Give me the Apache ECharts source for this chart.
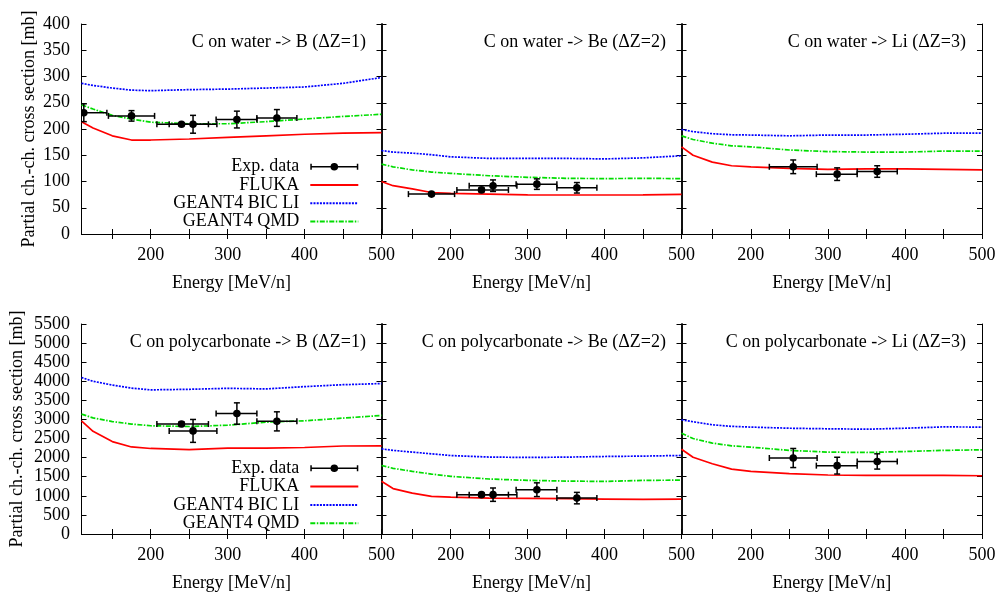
<!DOCTYPE html>
<html>
<head>
<meta charset="utf-8">
<script src="https://cdn.jsdelivr.net/npm/echarts@6/dist/echarts.min.js"></script>
<style>html,body{margin:0;padding:0;background:#fff}#c{width:999px;height:595px}</style>
</head>
<body>
<div id="c"></div>
<script>
// ---- data ----
const energies = [110, 125, 150, 175, 200, 250, 300, 350, 400, 450, 500];

const flukaWaterB = [214, 202, 187, 179, 179, 181, 184, 187, 190, 192, 193];
const bicWaterB   = [287, 283, 278, 274, 273, 275, 276, 278, 280, 287, 298];
const qmdWaterB   = [246, 238, 226, 219, 213, 210, 210, 214, 219, 224, 228];

const flukaWaterBe = [100, 92, 86, 79, 77.5, 76, 74.6, 74.3, 74.3, 74.6, 75.6];
const bicWaterBe   = [159, 156, 154, 151, 147, 144, 144, 144, 143, 145, 149];
const qmdWaterBe   = [133, 128, 122, 118, 115.5, 111, 108, 106, 105.5, 106, 105.5];

const flukaWaterLi = [166, 150, 137, 130, 128, 125, 123, 124, 124, 123, 122];
const bicWaterLi   = [199, 195, 191, 189, 188.5, 187, 188.5, 188.5, 190, 192, 192];
const qmdWaterLi   = [187, 180, 173, 168, 166, 160, 157, 156, 156, 158, 158];

const flukaPolyB = [2960, 2690, 2420, 2280, 2240, 2210, 2250, 2250, 2265, 2305, 2310];
const bicPolyB   = [4100, 4000, 3900, 3820, 3775, 3790, 3815, 3800, 3860, 3910, 3940];
const qmdPolyB   = [3140, 3040, 2945, 2880, 2835, 2815, 2850, 2930, 2965, 3035, 3105];

const flukaPolyBe = [1380, 1190, 1070, 985, 967, 941, 933, 924, 915, 906, 915];
const bicPolyBe   = [2230, 2190, 2145, 2100, 2055, 2015, 2005, 2013, 2030, 2040, 2057];
const qmdPolyBe   = [1795, 1720, 1640, 1570, 1510, 1440, 1405, 1386, 1377, 1403, 1412];

const flukaPolyLi = [2220, 2010, 1840, 1700, 1640, 1580, 1545, 1535, 1535, 1535, 1525];
const bicPolyLi   = [2990, 2940, 2860, 2820, 2800, 2770, 2755, 2745, 2770, 2805, 2800];
const qmdPolyLi   = [2640, 2500, 2380, 2310, 2275, 2190, 2145, 2135, 2160, 2190, 2205];

const expEnergy     = [113, 175, 240, 255, 312, 364];
const expEnergyLow  = [110, 145, 208, 224, 285, 338];
const expEnergyHigh = [143, 205, 275, 286, 338, 390];

const expWaterB     = [231, 225, 209, 209, 218, 221];
const expWaterBErr  = [17, 10, 3, 17, 16, 16];
const expWaterBe    = [null, 76, 84, 92, 95, 88];
const expWaterBeErr = [null, 3, 4, 11, 10, 10];
const expWaterLi    = [null, null, null, 128, 114, 119];
const expWaterLiErr = [null, null, null, 13, 12, 11];
const expPolyB      = [null, null, 2880, 2700, 3155, 2950];
const expPolyBErr   = [null, null, 60, 300, 280, 250];
const expPolyBe     = [null, null, 1030, 1030, 1160, 940];
const expPolyBeErr  = [null, null, 50, 175, 180, 150];
const expPolyLi     = [null, null, null, 1990, 1790, 1900];
const expPolyLiErr  = [null, null, null, 250, 220, 200];

const panelTitles = [
  'C on water -> B (\u0394Z=1)', 'C on water -> Be (\u0394Z=2)', 'C on water -> Li (\u0394Z=3)',
  'C on polycarbonate -> B (\u0394Z=1)', 'C on polycarbonate -> Be (\u0394Z=2)', 'C on polycarbonate -> Li (\u0394Z=3)'
];
const xTickValues  = [150, 200, 250, 300, 350, 400, 450, 500];
const xLabelValues = [200, 300, 400, 500];
const seriesNames = ['Exp. data', 'FLUKA', 'GEANT4 BIC LI', 'GEANT4 QMD'];
const xTitle = 'Energy [MeV/n]';
const yTitle = 'Partial ch.-ch. cross section [mb]';

// ---- build ----
const panels = [
  {fluka: flukaWaterB, bic: bicWaterB, qmd: qmdWaterB, exp: expWaterB, err: expWaterBErr},
  {fluka: flukaWaterBe, bic: bicWaterBe, qmd: qmdWaterBe, exp: expWaterBe, err: expWaterBeErr},
  {fluka: flukaWaterLi, bic: bicWaterLi, qmd: qmdWaterLi, exp: expWaterLi, err: expWaterLiErr},
  {fluka: flukaPolyB, bic: bicPolyB, qmd: qmdPolyB, exp: expPolyB, err: expPolyBErr},
  {fluka: flukaPolyBe, bic: bicPolyBe, qmd: qmdPolyBe, exp: expPolyBe, err: expPolyBeErr},
  {fluka: flukaPolyLi, bic: bicPolyLi, qmd: qmdPolyLi, exp: expPolyLi, err: expPolyLiErr}
];

const FONT = '"Liberation Serif", "DejaVu Serif", serif';
const colLeft = [81.5, 381.5, 681.5];
const colWidth = [300, 300, 300.5];
const rowTop = [24, 324];
const rowHeight = 210;
const titleRight = [633, 333, 33];

const grid = [], xAxis = [], yAxis = [], series = [], title = [];
const axisLineStyle = {color: '#000', width: 1};

function pairs(vals) { return energies.map((e, i) => [e, vals[i]]); }

function renderErr(params, api) {
  const x = api.value(0), y = api.value(1), xl = api.value(2), xh = api.value(3), ye = api.value(4);
  const p = api.coord([x, y]);
  const pl = api.coord([xl, y]);
  const ph = api.coord([xh, y]);
  const pt = api.coord([x, y + ye]);
  const pb = api.coord([x, y - ye]);
  const cap = 3;
  const st = {stroke: '#000', lineWidth: 1.5};
  return {
    type: 'group',
    children: [
      {type: 'line', shape: {x1: pl[0], y1: p[1], x2: ph[0], y2: p[1]}, style: st},
      {type: 'line', shape: {x1: pl[0], y1: p[1] - cap, x2: pl[0], y2: p[1] + cap}, style: st},
      {type: 'line', shape: {x1: ph[0], y1: p[1] - cap, x2: ph[0], y2: p[1] + cap}, style: st},
      {type: 'line', shape: {x1: p[0], y1: pt[1], x2: p[0], y2: pb[1]}, style: st},
      {type: 'line', shape: {x1: p[0] - cap, y1: pt[1], x2: p[0] + cap, y2: pt[1]}, style: st},
      {type: 'line', shape: {x1: p[0] - cap, y1: pb[1], x2: p[0] + cap, y2: pb[1]}, style: st},
      {type: 'circle', shape: {cx: p[0], cy: p[1], r: 3.8}, style: {fill: '#000'}}
    ]
  };
}

panels.forEach((pn, g) => {
  const row = Math.floor(g / 3), col = g % 3;
  const isTop = row === 0;
  grid.push({left: colLeft[col], top: rowTop[row], width: colWidth[col], height: rowHeight});
  const yMax = isTop ? 400 : 5500, yInt = isTop ? 50 : 500;
  xAxis.push({
    type: 'value', gridIndex: g, position: 'bottom', min: 110, max: 500,
    axisLine: {show: true, lineStyle: axisLineStyle},
    axisTick: {show: true, inside: true, length: 5, customValues: xTickValues, lineStyle: axisLineStyle},
    axisLabel: {show: true, customValues: xLabelValues, margin: 12, color: '#000', fontSize: 18, fontFamily: FONT,
      formatter: v => String(v)},
    splitLine: {show: false},
    name: xTitle, nameLocation: 'middle', nameGap: 40,
    nameTextStyle: {color: '#000', fontSize: 18, fontFamily: FONT}
  });
  xAxis.push({
    type: 'value', gridIndex: g, position: 'top', min: 110, max: 500,
    axisLine: {show: true, lineStyle: axisLineStyle},
    axisTick: {show: true, inside: true, length: 5, customValues: xTickValues, lineStyle: axisLineStyle},
    axisLabel: {show: false}, splitLine: {show: false}
  });
  yAxis.push({
    type: 'value', gridIndex: g, position: 'left', min: 0, max: yMax, interval: yInt,
    axisLine: {show: true, lineStyle: {color: '#000', width: col === 0 ? 1 : 1.5}},
    axisTick: {show: true, inside: true, length: 5, lineStyle: axisLineStyle},
    axisLabel: {show: col === 0, margin: 11.5, color: '#000', fontSize: 18, fontFamily: FONT,
      formatter: v => String(v)},
    splitLine: {show: false},
    name: col === 0 ? yTitle : '', nameLocation: 'middle', nameGap: isTop ? 43 : 55,
    nameTextStyle: {color: '#000', fontSize: 18, fontFamily: FONT}
  });
  yAxis.push({
    type: 'value', gridIndex: g, position: 'right', min: 0, max: yMax, interval: yInt,
    axisLine: {show: true, lineStyle: {color: '#000', width: col === 2 ? 1 : 1.5}},
    axisTick: {show: true, inside: true, length: 5, lineStyle: axisLineStyle},
    axisLabel: {show: false}, splitLine: {show: false}
  });
  title.push({
    text: panelTitles[g], right: titleRight[col], top: rowTop[row] + 9, padding: 0,
    textStyle: {color: '#000', fontSize: 18, fontWeight: 'normal', fontFamily: FONT}
  });
  const xi = 2 * g, yi = 2 * g;
  const expData = [];
  expEnergy.forEach((e, i) => {
    if (pn.exp[i] != null) expData.push([e, pn.exp[i], expEnergyLow[i], expEnergyHigh[i], pn.err[i]]);
  });
  series.push({
    name: 'Exp. data', type: 'custom', xAxisIndex: xi, yAxisIndex: yi,
    renderItem: renderErr, data: expData, clip: true, z: 5,
    encode: {x: [0, 2, 3], y: [1]},
    itemStyle: {color: '#000'}
  });
  series.push({
    name: 'FLUKA', type: 'line', xAxisIndex: xi, yAxisIndex: yi, data: pairs(pn.fluka),
    symbol: 'none', color: '#ff0000', itemStyle: {opacity: 0},
    lineStyle: {color: '#ff0000', width: 1.7}, z: 3
  });
  series.push({
    name: 'GEANT4 BIC LI', type: 'line', xAxisIndex: xi, yAxisIndex: yi, data: pairs(pn.bic),
    symbol: 'none', color: '#0000ff', itemStyle: {opacity: 0},
    lineStyle: {color: '#0000ff', width: 1.7, type: [2, 1.2]}, z: 3
  });
  series.push({
    name: 'GEANT4 QMD', type: 'line', xAxisIndex: xi, yAxisIndex: yi, data: pairs(pn.qmd),
    symbol: 'none', color: '#00dd00', itemStyle: {opacity: 0},
    lineStyle: {color: '#00dd00', width: 1.7, type: [5, 1.5, 1.5, 1.5]}, z: 3
  });
});

const expIcon = 'path://M0,3.75h48v1.5h-48z M0,1.5h1.5v6h-1.5z M46.5,1.5h1.5v6h-1.5z M20.2,4.5a3.8,3.8 0 1,1 7.6,0a3.8,3.8 0 1,1 -7.6,0z';
function makeLegend(top) {
  return {
    orient: 'vertical', align: 'right', right: 639.7, top: top, padding: 0,
    itemWidth: 48, itemHeight: 9, itemGap: 0.3, selectedMode: false,
    textStyle: {color: '#000', fontSize: 18, fontFamily: FONT, lineHeight: 18, padding: [0, 6, 0, 0]},
    data: [
      {name: 'Exp. data', icon: expIcon, itemStyle: {color: '#000'}},
      {name: 'FLUKA', itemStyle: {opacity: 0}},
      {name: 'GEANT4 BIC LI', itemStyle: {opacity: 0}},
      {name: 'GEANT4 QMD', itemStyle: {opacity: 0}}
    ]
  };
}

const chart = echarts.init(document.getElementById('c'), null, {renderer: 'canvas'});
chart.setOption({
  animation: false,
  backgroundColor: '#fff',
  title: title,
  legend: [makeLegend(157.7), makeLegend(459.3)],
  grid: grid,
  xAxis: xAxis,
  yAxis: yAxis,
  series: series
});
</script>
</body>
</html>
